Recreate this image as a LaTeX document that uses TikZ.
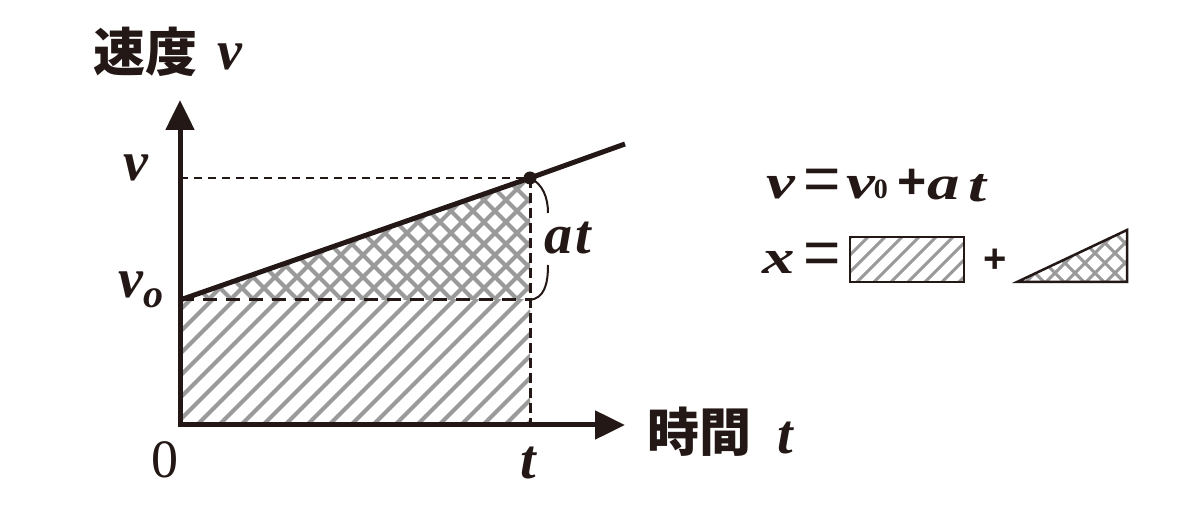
\documentclass[tikz,border=0pt]{standalone}
\usepackage{fontspec}
\usepackage{graphicx}
\setmainfont{Liberation Serif}
\newfontfamily\cjk{Noto Sans CJK JP}
\newfontfamily\plusfont{Liberation Sans}
\usetikzlibrary{arrows.meta,calc}
\definecolor{ink}{HTML}{231815}
\definecolor{hatchgray}{HTML}{9A9A9A}
\newcommand{\wide}[1]{\scalebox{1.35}[1]{#1}}
\begin{document}
\begin{tikzpicture}[x=1pt,y=-1pt,
  axisline/.style={line width=5pt, draw=ink, -{Triangle[length=30pt,width=28pt]}},
  slopeline/.style={line width=5pt, draw=ink},
  thindash/.style={line width=2.5pt, draw=ink, dash pattern=on 8pt off 6pt},
  thickdash/.style={line width=3pt, draw=ink, dash pattern=on 14pt off 9pt},
  vdash/.style={line width=3pt, draw=ink, dash pattern=on 10pt off 5pt},
  hatchline/.style={line width=4pt, draw=hatchgray},
  smallhatch/.style={line width=3pt, draw=hatchgray},
  bracecurve/.style={line width=2pt, draw=ink},
  lbl/.style={inner sep=0pt, text=ink, font=\fontsize{56}{60}\selectfont\bfseries\itshape},
  cjklbl/.style={inner sep=0pt, text=ink, font=\fontsize{52}{56}\selectfont\cjk\bfseries},
  legend/.style={inner sep=0pt, text=ink, font=\fontsize{48}{50}\selectfont\bfseries\itshape},
  legendsym/.style={inner sep=0pt, text=ink, font=\fontsize{64}{64}\selectfont\plusfont},
  outline/.style={line width=2.5pt, draw=ink}
]
\useasboundingbox (0,0) rectangle (1184,510);
% key points
\coordinate (O) at (180,425);
\coordinate (Ob) at (180,427.5);
\coordinate (Ol) at (177.5,425);
\coordinate (Ytip) at (180,100);
\coordinate (Xtip) at (625,425);
\coordinate (V0) at (180,300);
\coordinate (V) at (180,178);
\coordinate (P) at (530,178);
\coordinate (Q) at (530,300);
\coordinate (T) at (530,425);
\coordinate (Lend) at (625,144);
% rectangle hatch
\begin{scope}
  \clip (V0) rectangle (T);
  \foreach \k in {0,...,24} \draw[hatchline] (40+\k*22,428) -- ++(150,-150);
\end{scope}
% triangle crosshatch
\begin{scope}
  \clip (V0) -- (P) -- (Q) -- cycle;
  \foreach \k in {0,...,24} \draw[hatchline] (30+\k*22,302) -- ++(160,-160);
  \foreach \k in {0,...,24} \draw[hatchline] (190+\k*22,302) -- ++(-160,-160);
\end{scope}
% dashed guides
\draw[thindash] (V) -- (P);
\draw[thickdash] (V0) -- (Q);
\draw[vdash] (P) -- (T);
% axes
\draw[axisline] (Ob) -- (Ytip);
\draw[axisline] (Ol) -- (Xtip);
% slope line
\draw[slopeline] (V0) -- (P) -- (Lend);
\fill[ink] (P) circle (6.5);
% brace
\draw[bracecurve] (P) .. controls (543,184) and (548,198) .. (548,213);
\draw[bracecurve] (548,265) .. controls (548,285) and (544,298) .. (Q);
% labels
\node[lbl] (lat) at (568,238) {a\kern3pt t};
\node[lbl] (lv) at (136,168) {v};
\node[lbl] (lv0) at (141,290) {v\textsubscript{\fontsize{40}{40}\selectfont o}};
\node[inner sep=0pt, text=ink, font=\fontsize{54}{58}\selectfont] (l0) at (165,460) {0};
\node[lbl] (lt) at (528,463) {t};
\node[cjklbl, anchor=west] (ly) at (93,52) {速度};
\node[lbl] (lyv) at (230,57) {v};
\node[cjklbl, anchor=west] (lx) at (647,432) {時間};
\node[lbl] (lxt) at (785,438) {t};
% legend line 1
\node[legend] (f1v) at (781,188) {\wide{v}};
\node[legendsym] (f1eq) at (822,185) {=};
\node[legend] (f1v0) at (867,188) {\wide{v}\kern-1pt{\fontsize{28}{28}\selectfont\upshape 0}};
\node[legendsym, font=\fontsize{50}{50}\selectfont\plusfont\bfseries] (f1p) at (912,184) {+};
\node[legend] (f1a) at (944,188) {\wide{a}};
\node[legend] (f1t) at (977,188) {\wide{t}};
% legend line 2
\node[legend] (f2x) at (779,262) {\wide{x}};
\node[legendsym] (f2eq) at (822,259) {=};
\coordinate (R1) at (850,237);
\coordinate (R2) at (964,282);
\begin{scope}
  \clip (R1) rectangle (R2);
  \foreach \k in {0,...,12} \draw[smallhatch] (800+\k*17,288) -- ++(60,-60);
\end{scope}
\draw[outline] (R1) rectangle (R2);
\node[legendsym, font=\fontsize{40}{40}\selectfont\plusfont\bfseries] (plus) at (995,261) {+};
\coordinate (A1) at (1017,282);
\coordinate (A2) at (1127,282);
\coordinate (A3) at (1127,230);
\begin{scope}
  \clip (A1) -- (A2) -- (A3) -- cycle;
  \foreach \k in {0,...,10} \draw[smallhatch] (1000+\k*20,288) -- ++(70,-70);
  \foreach \k in {0,...,10} \draw[smallhatch] (1050+\k*20,288) -- ++(-70,-70);
\end{scope}
\draw[outline] (A1) -- (A2) -- (A3) -- cycle;
\end{tikzpicture}
\end{document}
